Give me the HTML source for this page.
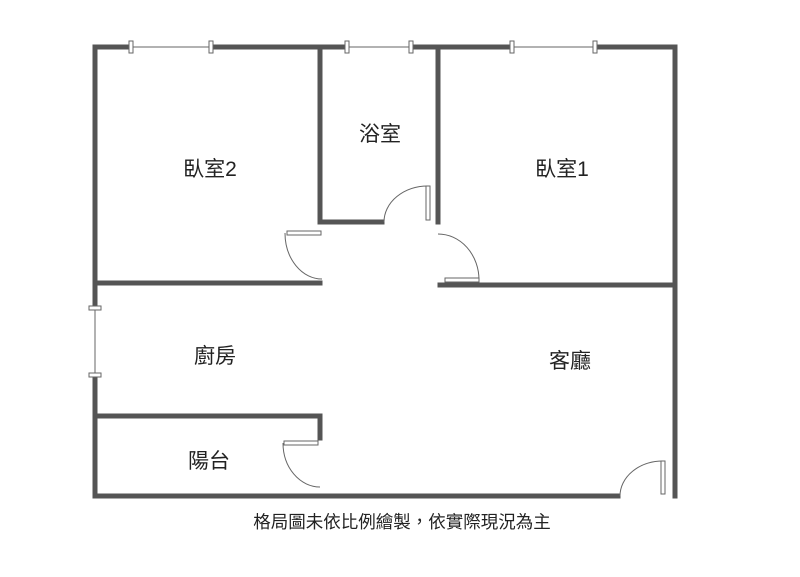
<!DOCTYPE html>
<html><head><meta charset="utf-8"><style>
body{margin:0;background:#fff;width:800px;height:577px;overflow:hidden}
svg{display:block}
text{font-family:"Liberation Sans","Noto Sans CJK TC",sans-serif;fill:#222}
</style></head><body>
<svg width="800" height="577" viewBox="0 0 800 577">
<g stroke="#555" stroke-width="5" fill="none" stroke-linecap="square">
<path d="M95 47 H131 M211 47 H347 M411 47 H512 M595 47 H675"/>
<path d="M95 47 V308 M95 375 V496"/>
<path d="M675 47 V496"/>
<path d="M320 47 V222 H382 M438 47 V222"/>
<path d="M95 283 H320"/>
<path d="M440 285 H675"/>
<path d="M95 416 H320 V438"/>
<path d="M95 496 H618"/>
</g>
<g stroke="#666" stroke-width="1" fill="#fff">
<line x1="131" y1="47" x2="211" y2="47"/>
<line x1="347" y1="47" x2="411" y2="47"/>
<line x1="512" y1="47" x2="595" y2="47"/>
<line x1="95" y1="308" x2="95" y2="375"/>
<rect x="129" y="41" width="4" height="12"/><rect x="209" y="41" width="4" height="12"/>
<rect x="345" y="41" width="4" height="12"/><rect x="409" y="41" width="4" height="12"/>
<rect x="510" y="41" width="4" height="12"/><rect x="593" y="41" width="4" height="12"/>
<rect x="89" y="306" width="12" height="4"/><rect x="89" y="373" width="12" height="4"/>
<path d="M384 222 A44 36 0 0 1 428 186" fill="none"/>
<rect x="426" y="186" width="4" height="34"/>
<path d="M285 233 A37 46 0 0 0 322 279" fill="none"/>
<rect x="287" y="231" width="34" height="4"/>
<path d="M438 234 A41 46 0 0 1 479 280" fill="none"/>
<rect x="445" y="278" width="34" height="4"/>
<path d="M283 443 A37 44 0 0 0 320 487" fill="none"/>
<rect x="284" y="441" width="34" height="4"/>
<path d="M620 496 A43 35 0 0 1 663 461" fill="none"/>
<rect x="661" y="461" width="4" height="33"/>
</g>
<g font-size="21" text-anchor="middle">
<text x="210" y="176">臥室2</text>
<text x="380" y="141">浴室</text>
<text x="562" y="176">臥室1</text>
<text x="215" y="363">廚房</text>
<text x="570" y="368">客廳</text>
<text x="209" y="468">陽台</text>
</g>
<text x="402" y="528" font-size="17.5" text-anchor="middle">格局圖未依比例繪製，依實際現況為主</text>
</svg>
</body></html>
